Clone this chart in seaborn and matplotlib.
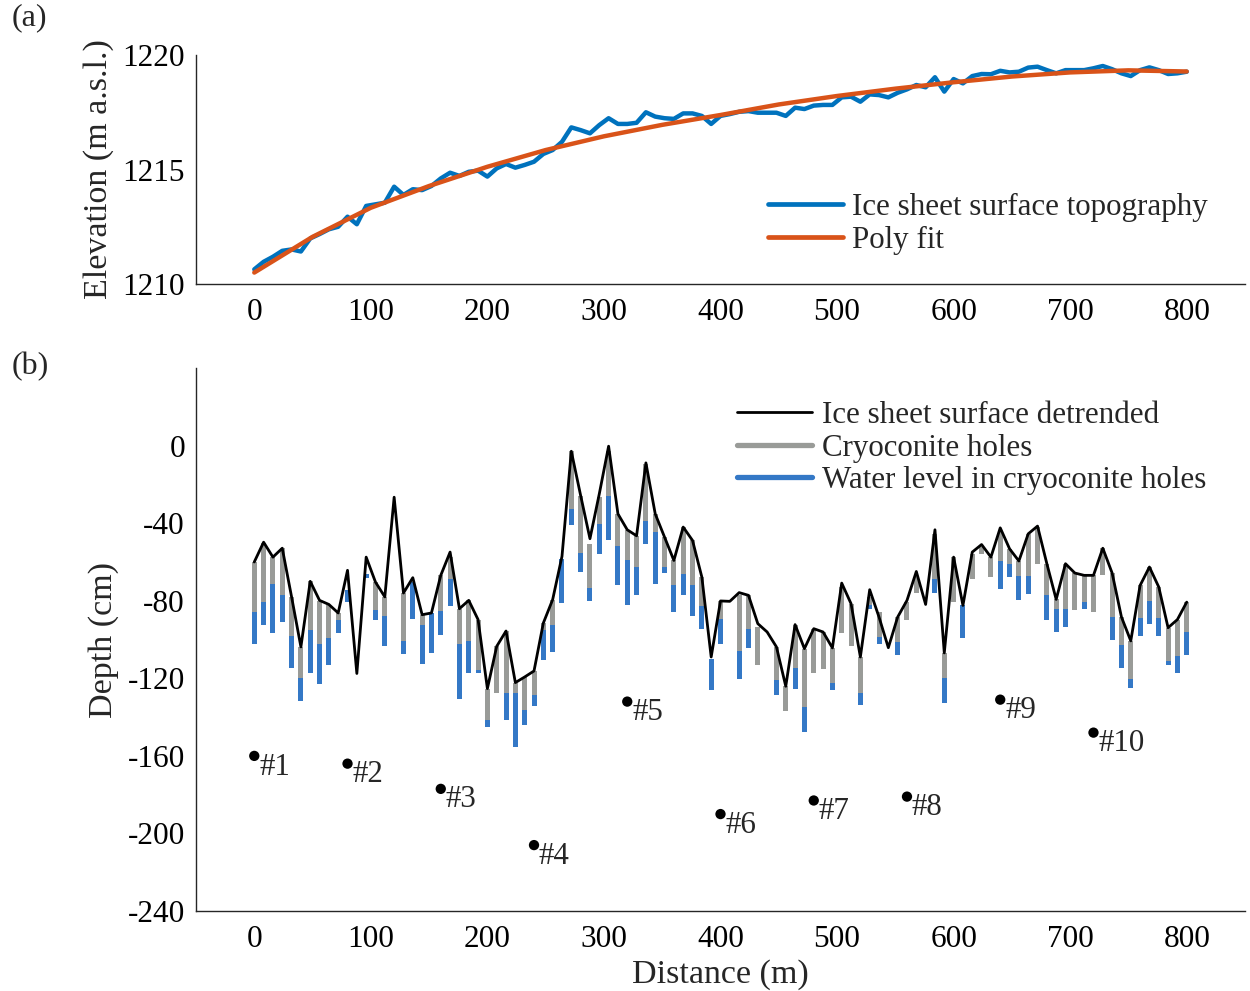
import numpy as np
import pandas as pd
import matplotlib
matplotlib.use("Agg")
import matplotlib.pyplot as plt
import seaborn as sns
from matplotlib.lines import Line2D

nan = np.nan

# ---------------- data ----------------
distance = list(range(0, 801, 8))

topography = [
    1210.64, 1210.97, 1211.19, 1211.45, 1211.51, 1211.42, 1211.99, 1212.18, 1212.39, 1212.50,
    1212.94, 1212.61, 1213.41, 1213.48, 1213.55, 1214.25, 1213.89, 1214.14, 1214.10, 1214.28,
    1214.61, 1214.86, 1214.72, 1214.90, 1214.95, 1214.69, 1215.05, 1215.24, 1215.08, 1215.20,
    1215.34, 1215.68, 1215.85, 1216.21, 1216.84, 1216.72, 1216.58, 1216.94, 1217.24, 1216.99,
    1216.99, 1217.04, 1217.50, 1217.31, 1217.24, 1217.21, 1217.45, 1217.45, 1217.34, 1216.99,
    1217.34, 1217.42, 1217.52, 1217.55, 1217.48, 1217.48, 1217.48, 1217.34, 1217.70, 1217.64,
    1217.79, 1217.82, 1217.82, 1218.15, 1218.18, 1217.96, 1218.28, 1218.25, 1218.15, 1218.35,
    1218.50, 1218.69, 1218.59, 1219.03, 1218.40, 1218.95, 1218.76, 1219.08, 1219.17, 1219.16,
    1219.31, 1219.24, 1219.27, 1219.45, 1219.49, 1219.34, 1219.20, 1219.34, 1219.34, 1219.34,
    1219.42, 1219.52, 1219.38, 1219.20, 1219.08, 1219.34, 1219.46, 1219.34, 1219.17, 1219.20,
    1219.27,
]

fit_distance = list(range(0, 801, 50))
poly_fit = [1210.50, 1212.06, 1213.33, 1214.28, 1215.12, 1215.85, 1216.45, 1216.95, 1217.38,
            1217.84, 1218.21, 1218.53, 1218.81, 1219.06, 1219.24, 1219.33, 1219.28]

surface_detrended = [
    -60.0, -49.8, -57.5, -52.9, -78.0, -103.8, -70.0, -79.8, -81.9, -86.3,
    -64.3, -117.5, -57.5, -70.4, -78.0, -26.6, -76.0, -68.1, -87.2, -86.3,
    -66.9, -54.9, -84.1, -79.8, -89.7, -125.3, -103.5, -95.6, -122.2, -119.3,
    -116.2, -91.5, -79.4, -57.1, -2.9, -25.7, -48.0, -24.9, -0.3, -35.2,
    -43.4, -46.5, -8.9, -35.2, -47.2, -59.2, -42.0, -48.9, -67.8, -109.0,
    -80.1, -80.3, -75.8, -77.2, -91.8, -96.1, -103.8, -124.1, -92.3, -104.7,
    -94.4, -96.1, -104.3, -70.9, -81.5, -109.0, -74.3, -88.4, -104.2, -88.4,
    -79.8, -64.9, -81.9, -43.4, -106.9, -57.5, -82.4, -54.9, -51.0, -57.5,
    -42.4, -53.2, -59.5, -45.5, -41.5, -60.9, -79.3, -60.9, -65.7, -66.9,
    -66.9, -52.9, -65.7, -88.4, -100.7, -72.1, -62.6, -72.9, -93.9, -89.7,
    -80.7,
]

hole_top = [
    -60.0, -50.0, -57.5, -53.0, -78.0, -103.8, -70.0, -80.0, -82.0, -86.5,
    -74.6, nan, -66.4, -70.4, -78.0, nan, -76.0, -70.4, -87.2, -86.3,
    -66.9, -57.5, -84.1, -79.8, -89.7, -125.3, -103.5, -95.6, -122.2, -119.3,
    -116.2, -91.5, -79.4, -58.3, -3.0, -26.0, -50.6, -26.6, -2.6, -35.2,
    -43.4, -46.5, -9.4, -35.2, -47.2, -59.2, -42.0, -48.9, -67.8, -109.8,
    -80.1, nan, -77.2, -77.2, -93.5, nan, -103.8, -124.1, -92.3, -104.7,
    -94.4, -96.1, -104.3, -73.0, -81.5, -109.0, -78.0, -85.8, nan, -88.4,
    -80.7, -67.8, nan, -45.5, -106.9, -57.5, -82.4, -55.8, -52.4, -57.5,
    -43.8, -53.2, -59.5, -45.5, -42.0, -60.9, -79.3, -60.9, -65.7, -66.9,
    -66.9, -52.9, -65.7, -88.4, -100.7, -72.1, -62.6, -72.9, -93.9, -89.7,
    -80.7,
]

water_level = [
    -85.8, -80.7, -71.2, -77.2, -98.3, -119.8, -95.2, -102.1, -99.0, -89.7,
    -74.6, nan, -66.4, -85.0, -87.9, nan, -100.7, -70.4, -92.7, -86.3,
    -85.3, -69.0, -102.1, -100.7, -115.8, -141.6, nan, -127.8, -127.8, -136.1,
    -128.7, -94.9, -92.7, -58.3, -32.9, -55.4, -73.4, -40.3, -26.1, -51.8,
    -58.9, -62.6, -39.0, -44.8, -62.6, -72.1, -66.4, -72.1, -82.7, -109.8,
    -89.2, nan, -105.9, -94.4, nan, nan, -121.0, nan, -114.5, -134.7,
    nan, nan, -122.2, nan, nan, -127.8, -82.4, -98.7, nan, -101.2,
    nan, nan, nan, -69.0, -119.8, nan, -82.4, nan, nan, nan,
    -59.5, -61.3, -67.3, -67.3, nan, -77.2, -84.4, -84.1, nan, -80.7,
    nan, nan, -88.4, -103.0, -120.6, -88.7, -80.1, -88.7, -111.0, -108.6,
    -96.1,
]

hole_bottom = [
    -102.4, -92.7, -96.6, -91.1, -114.6, -131.6, -117.0, -122.7, -112.9, -96.6,
    -80.7, nan, -68.1, -89.7, -103.5, nan, -107.6, -89.2, -112.4, -106.9,
    -97.8, -82.7, -130.8, -117.2, -117.5, -145.3, -127.8, -141.6, -155.3, -144.1,
    -134.4, -110.7, -106.4, -81.2, -40.7, -65.2, -80.3, -56.1, -48.9, -71.7,
    -82.4, -77.2, -50.6, -71.6, -65.7, -85.8, -76.9, -87.9, -94.4, -126.1,
    -102.1, nan, -120.6, -104.2, -112.9, nan, -128.7, -136.8, -125.3, -147.6,
    -117.2, -115.0, -126.1, -96.4, -103.5, -133.5, -84.4, -102.4, nan, -108.1,
    -90.1, -76.0, nan, -75.8, -132.5, -80.7, -99.0, -68.6, -56.1, -67.8,
    -74.1, -67.8, -79.8, -76.4, -60.9, -89.7, -96.1, -93.5, -84.9, -84.1,
    -85.8, -66.9, -100.0, -114.6, -124.8, -98.2, -91.8, -98.3, -112.9, -117.2,
    -108.1,
]

site_labels = ["#1", "#2", "#3", "#4", "#5", "#6", "#7", "#8", "#9", "#10"]
site_distance = [0, 80, 160, 240, 320, 400, 480, 560, 640, 720]
site_depth = [-160, -164, -177, -206, -132, -190, -183, -181, -131, -148]

x_ticks = [0, 100, 200, 300, 400, 500, 600, 700, 800]
elev_ticks = [1210, 1215, 1220]
depth_ticks = [-240, -200, -160, -120, -80, -40, 0]

# ---------------- style ----------------
sns.set_theme(style="white")
plt.rcParams["font.family"] = ["Liberation Serif", "DejaVu Serif"]
plt.rcParams["axes.unicode_minus"] = False

C_TOPO = "#0072BD"
C_FIT = "#D95319"
C_GRAY = "#999B98"
C_BLUE = "#3478C6"
FS_TICK = 22.5
FS_LEG = 22.3
FS_LAB = 24.5

fig = plt.figure(figsize=(12.5, 9.91), dpi=100)
ax1 = fig.add_axes([0.1568, 0.7134, 0.8392, 0.2311])
ax2 = fig.add_axes([0.1568, 0.0807, 0.8392, 0.5479])

def style_axis(ax):
    for s in ["top", "right"]:
        ax.spines[s].set_visible(False)
    for s in ["left", "bottom"]:
        ax.spines[s].set_color("#262626")
        ax.spines[s].set_linewidth(1.0)
    ax.tick_params(direction="in", length=7, width=1.0, colors="#262626",
                   labelsize=FS_TICK, labelcolor="black")
    ax.tick_params(axis="x", pad=10)
    ax.tick_params(axis="y", pad=8)
    ax.set_xlim(-50, 850)
    ax.set_xticks(x_ticks)

# ---------------- panel (a) ----------------
topo_df = pd.DataFrame({"d": distance, "e": topography})
fit_df = pd.DataFrame({"d": fit_distance, "e": poly_fit})
sns.lineplot(data=topo_df, x="d", y="e", ax=ax1, color=C_TOPO, lw=3.2, sort=False)
sns.lineplot(data=fit_df, x="d", y="e", ax=ax1, color=C_FIT, lw=3.2, sort=False)
style_axis(ax1)
ax1.set_ylim(1210, 1220)
ax1.set_yticks(elev_ticks)
ax1.set_xlabel("")
ax1.set_ylabel("Elevation (m a.s.l.)", fontsize=FS_LAB, labelpad=6)
h1 = [Line2D([], [], color=C_TOPO, lw=3.4), Line2D([], [], color=C_FIT, lw=3.4)]
ax1.legend(h1, ["Ice sheet surface topography", "Poly fit"], frameon=False,
           fontsize=FS_LEG, loc="upper left", bbox_to_anchor=(0.545, 0.397),
           handlelength=2.42, handletextpad=0.3, labelspacing=0.11,
           borderaxespad=0, borderpad=0)

# ---------------- panel (b) ----------------
d = np.array(distance, dtype=float)
top = np.array(hole_top)
wat = np.array(water_level)
bot = np.array(hole_bottom)
m = ~np.isnan(top) & ~np.isnan(bot)
ax2.bar(d[m], bot[m] - top[m], bottom=top[m], width=4.3, color=C_GRAY, lw=0, zorder=1)
mw = ~np.isnan(wat) & ~np.isnan(bot)
ax2.bar(d[mw], bot[mw] - wat[mw], bottom=wat[mw], width=4.3, color=C_BLUE, lw=0, zorder=2)

surf_df = pd.DataFrame({"d": distance, "s": surface_detrended})
sns.lineplot(data=surf_df, x="d", y="s", ax=ax2, color="black", lw=2.0, sort=False, zorder=3)

site_df = pd.DataFrame({"d": site_distance, "z": site_depth})
sns.scatterplot(data=site_df, x="d", y="z", ax=ax2, color="black", s=55,
                edgecolor="none", zorder=4)
for lab, xd, yd in zip(site_labels, site_distance, site_depth):
    ax2.annotate(lab, (xd, yd), xytext=(3.5, -8), textcoords="offset points",
                 ha="left", va="center", fontsize=FS_LEG)

style_axis(ax2)
ax2.set_ylim(-240, 40)
ax2.set_yticks(depth_ticks)
ax2.set_xlabel("Distance (m)", fontsize=FS_LAB, labelpad=4)
ax2.set_ylabel("Depth (cm)", fontsize=FS_LAB, labelpad=6)
h2 = [Line2D([], [], color="black", lw=2.0), Line2D([], [], color=C_GRAY, lw=3.8),
      Line2D([], [], color=C_BLUE, lw=3.8)]
ax2.legend(h2, ["Ice sheet surface detrended", "Cryoconite holes",
                "Water level in cryoconite holes"], frameon=False,
           fontsize=FS_LEG, loc="upper left", bbox_to_anchor=(0.516, 0.939),
           handlelength=2.42, handletextpad=0.3, labelspacing=0.11,
           borderaxespad=0, borderpad=0)

fig.text(0.009, 0.982, "(a)", fontsize=23, ha="left", va="center")
fig.text(0.009, 0.630, "(b)", fontsize=23, ha="left", va="center")

fig.savefig("out.png", dpi=100)
